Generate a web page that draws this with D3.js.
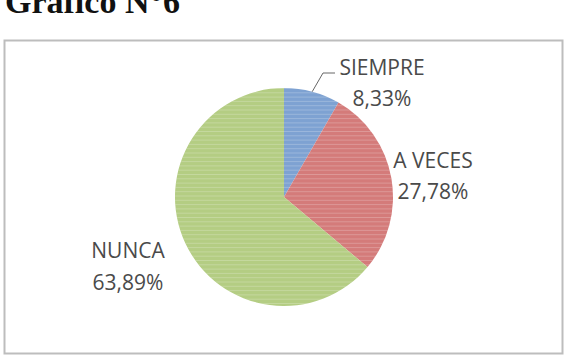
<!DOCTYPE html>
<html>
<head>
<meta charset="utf-8">
<script src="https://cdn.jsdelivr.net/npm/d3@7"></script>
<style>
html,body{margin:0;padding:0;background:#fff;}
svg{display:block;}
</style>
</head>
<body>
<svg id="chart" width="573" height="357"></svg>
<script>
const categories = ["SIEMPRE", "A VECES", "NUNCA"];
const values = [8.33, 27.78, 63.89];
const valueLabels = ["8,33%", "27,78%", "63,89%"];
const colors = ["#7ea2d2", "#d47b7a", "#b4cd83"];

const svg = d3.select("#chart");

// title (partially cropped at top, as in the reference)
svg.append("text")
  .attr("x", 5).attr("y", 13)
  .attr("font-family", "'Liberation Serif','Times New Roman',serif")
  .attr("font-weight", "bold")
  .attr("font-size", 34)
  .attr("fill", "#111")
  .text("Gráfico N°6");

// chart frame
svg.append("rect")
  .attr("x", 4.5).attr("y", 40.5)
  .attr("width", 558).attr("height", 313)
  .attr("fill", "#fff")
  .attr("stroke", "#bdbdbd")
  .attr("stroke-width", 2);

const cx = 284, cy = 197, r = 109;
const data = categories.map((c, i) => ({cat: c, value: values[i], label: valueLabels[i], color: colors[i]}));
const pie = d3.pie().sort(null).value(d => d.value);
const arc = d3.arc().innerRadius(0).outerRadius(r);
const arcs = pie(data);

const g = svg.append("g").attr("transform", `translate(${cx},${cy})`);
g.selectAll("path.slice").data(arcs).enter().append("path")
  .attr("class", "slice")
  .attr("d", arc)
  .attr("fill", d => d.data.color);

// faint horizontal scan stripes over the pie
const defs = svg.append("defs");
defs.append("clipPath").attr("id", "pieclip")
  .append("circle").attr("cx", cx).attr("cy", cy).attr("r", r);
const stripes = svg.append("g").attr("clip-path", "url(#pieclip)");
stripes.selectAll("line").data(d3.range(cy - r, cy + r, 4.3)).enter().append("line")
  .attr("x1", cx - r).attr("x2", cx + r)
  .attr("y1", d => d + 0.5).attr("y2", d => d + 0.5)
  .attr("stroke", "#fff").attr("stroke-opacity", 0.22).attr("stroke-width", 1);

// labels
const labelPos = [
  {x: 382, y1: 75, y2: 106},
  {x: 433, y1: 168, y2: 199},
  {x: 128, y1: 258, y2: 290}
];
const font = "'Open Sans','Liberation Sans',sans-serif";
const lbl = svg.append("g").attr("font-family", font).attr("font-size", 21)
  .attr("fill", "#4a4a4a").attr("text-anchor", "middle");
data.forEach((d, i) => {
  lbl.append("text").attr("x", labelPos[i].x).attr("y", labelPos[i].y1).text(d.cat);
  lbl.append("text").attr("x", labelPos[i].x).attr("y", labelPos[i].y2).text(d.label);
});

// leader line for SIEMPRE
const mid = (arcs[0].startAngle + arcs[0].endAngle) / 2;
const px = cx + Math.sin(mid) * r, py = cy - Math.cos(mid) * r;
svg.append("polyline")
  .attr("points", `${px},${py} ${323},${73} ${335},${73}`)
  .attr("fill", "none").attr("stroke", "#666").attr("stroke-width", 1);
</script>
</body>
</html>
